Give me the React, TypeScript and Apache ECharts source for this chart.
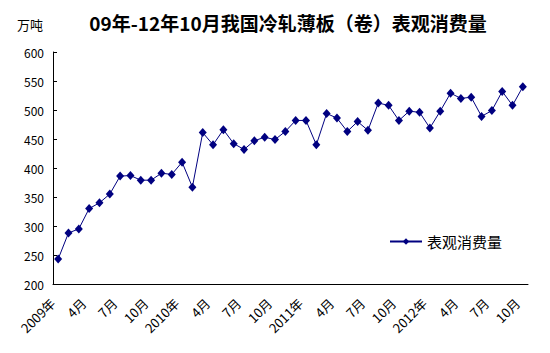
import React, { useEffect, useRef } from "react";
import * as echarts from "echarts";

const title = "09年-12年10月我国冷轧薄板（卷）表观消费量";
const unitLabel = "万吨";
const seriesName = "表观消费量";
const years = ["2009", "2010", "2011", "2012"];
const monthsPerYear = [12, 12, 12, 10];
const consumption = [
  243, 288, 295, 330, 340, 355, 386, 387, 379, 379, 391, 389,
  410, 367, 461, 440, 466, 442, 432, 447, 453, 449, 463, 482,
  482, 440, 494, 486, 463, 480, 465, 512, 508, 482, 498, 496,
  469, 498, 529, 520, 522, 489, 499, 532, 508, 540,
];

const categories: string[] = [];
years.forEach((y, yi) => {
  for (let m = 1; m <= monthsPerYear[yi]; m++) {
    categories.push(m === 1 ? `${y}年` : `${m}月`);
  }
});

export default function App() {
  const ref = useRef<HTMLDivElement>(null);
  useEffect(() => {
    if (!ref.current) return;
    const chart = echarts.init(ref.current, null, { renderer: "svg" });
    const font = "'Noto Sans CJK SC', 'Noto Sans', sans-serif";
    chart.setOption({
      animation: false,
      backgroundColor: "#fff",
      textStyle: { fontFamily: font },
      title: [
        {
          text: title,
          left: 283,
          textAlign: "center",
          top: 8,
          textStyle: { fontSize: 19, fontWeight: "bold", color: "#000", fontFamily: font },
        },
        {
          text: unitLabel,
          left: 12,
          top: 13,
          textStyle: { fontSize: 13, fontWeight: "normal", color: "#000", fontFamily: font },
        },
      ],
      legend: {
        left: 384,
        top: 229,
        itemWidth: 32,
        itemHeight: 8,
        itemGap: 4,
        textStyle: { fontSize: 15, color: "#000", fontFamily: font },
        data: [seriesName],
      },
      grid: { left: 53, right: 22, top: 52, bottom: 69, containLabel: false },
      xAxis: {
        type: "category",
        data: categories,
        boundaryGap: true,
        axisLine: { lineStyle: { color: "#000", width: 1 } },
        axisTick: {
          inside: true,
          length: 4,
          interval: 0,
          lineStyle: { color: "#000" },
        },
        axisLabel: {
          rotate: 45,
          interval: (i: number) => i % 3 === 0,
          fontSize: 13,
          color: "#000",
          margin: 11,
          padding: [0, 8, 0, 0],
          fontFamily: font,
        },
      },
      yAxis: {
        type: "value",
        min: 200,
        max: 600,
        interval: 50,
        splitLine: { show: false },
        axisLine: { show: true, lineStyle: { color: "#000", width: 1 } },
        axisTick: { show: true, inside: true, length: 4, lineStyle: { color: "#000" } },
        axisLabel: { fontSize: 12, color: "#000", margin: 9, fontFamily: font },
      },
      series: [
        {
          name: seriesName,
          type: "line",
          data: consumption,
          symbol: "diamond",
          symbolSize: [8, 9],
          showAllSymbol: true,
          lineStyle: { color: "#000080", width: 1 },
          itemStyle: { color: "#000080" },
        },
      ],
    });
    return () => chart.dispose();
  }, []);
  return <div ref={ref} style={{ width: 550, height: 353, position: "absolute", left: 0, top: 0 }} />;
}
